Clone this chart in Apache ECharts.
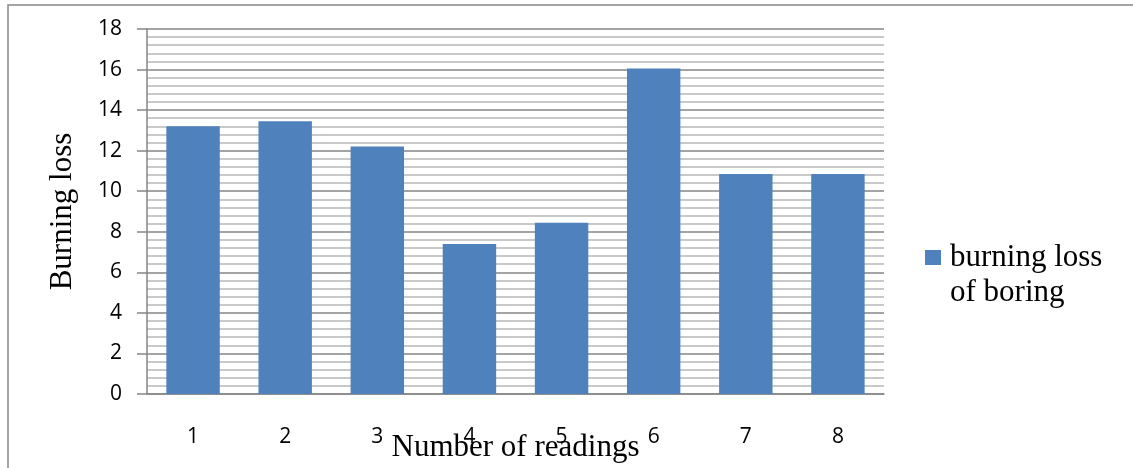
<!DOCTYPE html>
<html>
<head>
<meta charset="utf-8">
<script src="https://cdn.jsdelivr.net/npm/echarts@6/dist/echarts.min.js"></script>
<style>
  html, body { margin: 0; padding: 0; background: #fff; }
  #chart { width: 1133px; height: 468px; }
</style>
</head>
<body>
<div id="chart"></div>
<script>
// Reading numbers and measured burning loss per reading
const readings = ['1', '2', '3', '4', '5', '6', '7', '8'];
const burningLoss = [13.2, 13.45, 12.2, 7.4, 8.45, 16.05, 10.85, 10.85];
const seriesName = 'burning loss of boring';
const yMin = 0;
const yMax = 18;
const yStep = 2;

const chart = echarts.init(document.getElementById('chart'), null, { renderer: 'canvas' });

const serif = '"Liberation Serif", "Times New Roman", serif';
const sans = '"Open Sans", "Liberation Sans", sans-serif';

chart.setOption({
  animation: false,
  backgroundColor: '#ffffff',
  graphic: [{
    type: 'rect',
    shape: { x: 8, y: 5, width: 1200, height: 520 },
    style: { fill: 'none', stroke: '#868686', lineWidth: 1.5 },
    silent: true,
    z: -1
  }],
  grid: {
    left: 147, right: 249, top: 29, bottom: 74,
    containLabel: false,
    outerBoundsMode: 'none'
  },
  legend: {
    left: 925,
    top: 205,
    padding: 0,
    itemWidth: 16,
    itemHeight: 15,
    itemGap: 9,
    icon: 'rect',
    data: [seriesName],
    // blank first line keeps the marker level with the first text line
    formatter: () => '\nburning loss\nof boring',
    textStyle: {
      fontFamily: serif,
      fontSize: 31,
      lineHeight: 35,
      color: '#000',
      padding: [0, 0, 0, 4]
    }
  },
  xAxis: {
    type: 'category',
    data: readings,
    name: 'Number of readings',
    nameLocation: 'middle',
    nameGap: 38,
    nameMoveOverlap: false,
    nameTextStyle: { fontFamily: serif, fontSize: 31, color: '#000' },
    axisLine: { show: true, lineStyle: { color: '#868686', width: 1.5 } },
    axisTick: { show: false },
    axisLabel: { fontFamily: sans, fontSize: 21, color: '#000', margin: 33 },
    splitLine: { show: false }
  },
  yAxis: {
    type: 'value',
    min: yMin,
    max: yMax,
    interval: yStep,
    name: 'Burning loss',
    nameLocation: 'middle',
    nameGap: 69,
    nameMoveOverlap: false,
    nameRotate: 90,
    nameTextStyle: { fontFamily: serif, fontSize: 31, color: '#000' },
    axisLine: { show: true, lineStyle: { color: '#868686', width: 1.5 } },
    axisTick: { show: true, length: 10, lineStyle: { color: '#868686', width: 1.5 } },
    axisLabel: { fontFamily: sans, fontSize: 21, color: '#000', margin: 25 },
    splitLine: { show: true, lineStyle: { color: '#868686', width: 1.5 } },
    minorTick: { show: false, splitNumber: 5 },
    minorSplitLine: { show: true, lineStyle: { color: '#b8b8b8', width: 1.5 } }
  },
  series: [{
    name: seriesName,
    type: 'bar',
    data: burningLoss,
    barCategoryGap: '42%',
    itemStyle: { color: '#4F81BD' }
  }]
});
</script>
</body>
</html>
